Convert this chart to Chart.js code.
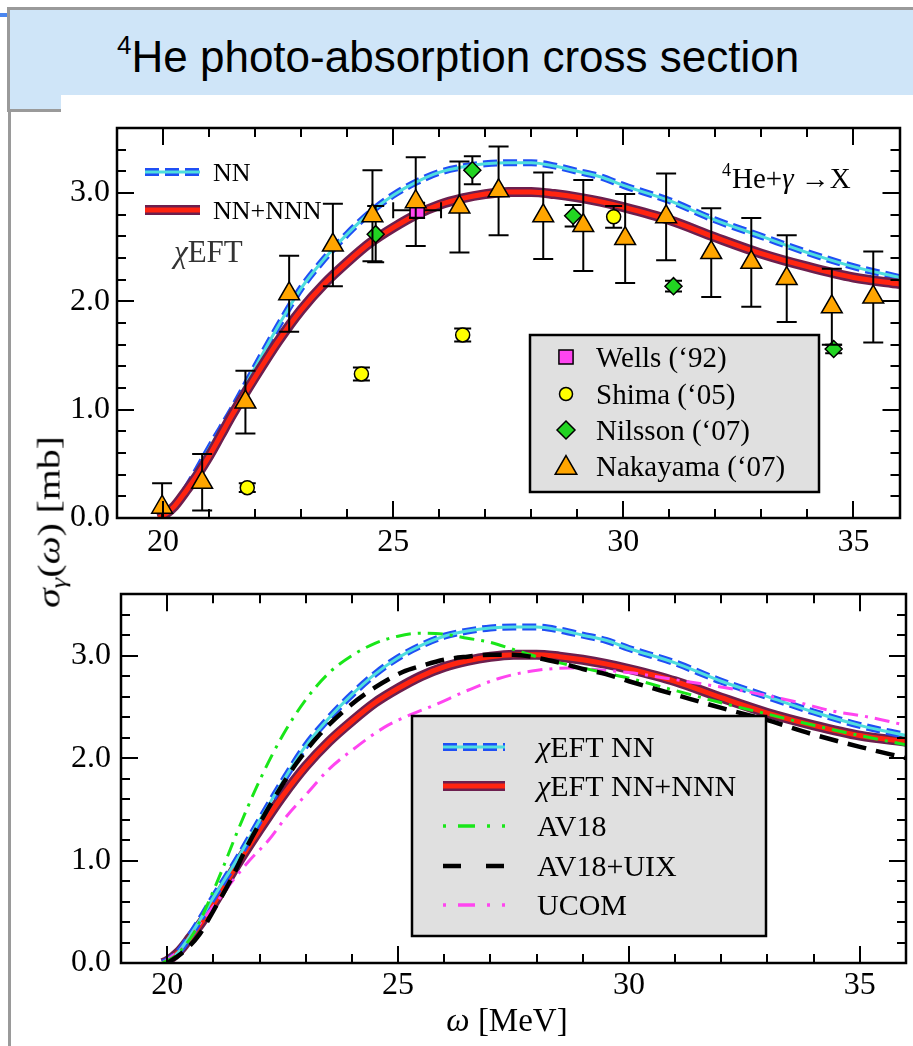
<!DOCTYPE html>
<html>
<head>
<meta charset="utf-8">
<script src="https://cdn.jsdelivr.net/npm/chart.js@4.4.1/dist/chart.umd.min.js"></script>
<style>
html,body{margin:0;padding:0;background:#fff;}
body{width:913px;height:1046px;position:relative;overflow:hidden;font-family:"Liberation Serif","Times New Roman",serif;}
#banner{position:absolute;left:7px;top:7px;width:906px;height:105px;box-sizing:border-box;background:#cfe5f8;border-top:3px solid #9a9a9a;border-left:3px solid #9a9a9a;border-bottom:3px solid #9a9a9a;}
#bluemark{position:absolute;left:0;top:13px;width:7px;height:4px;background:#4a86f0;}
#vline{position:absolute;left:8px;top:112px;width:3px;height:934px;background:#9a9a9a;}
#title{position:absolute;left:117px;top:35px;font-family:"Liberation Sans",Arial,sans-serif;font-size:44px;line-height:44px;white-space:nowrap;color:#000;}
#title sup{font-size:26px;line-height:0;vertical-align:18px;}
.box{position:absolute;background:#fff;}
.box canvas{display:block;}
#ylab{position:absolute;left:49px;top:522px;transform:translate(-50%,-50%) rotate(-90deg) scaleX(1.28);font-size:31px;line-height:1;white-space:nowrap;color:#000;}
#ylab sub{font-size:21px;vertical-align:-6px;line-height:0;}
#xlab{position:absolute;left:507px;top:1020px;transform:translate(-50%,-50%);font-size:33px;line-height:1;white-space:nowrap;color:#000;}
</style>
</head>
<body>
<div id="banner"></div>
<div id="bluemark"></div>
<div id="vline"></div>
<div id="title"><sup>4</sup>He photo-absorption cross section</div>
<div class="box" style="left:61px;top:95px;width:852px;height:470px;"><canvas id="c1" width="852" height="470"></canvas></div>
<div class="box" style="left:61px;top:565px;width:852px;height:481px;"><canvas id="c2" width="852" height="481"></canvas></div>
<div id="ylab"><i>σ</i><sub><i>γ</i></sub>(<i>ω</i>) [mb]</div>
<div id="xlab"><i>ω</i> [MeV]</div>
<script>
// ---------------- data ----------------
const xTickValues = [20, 25, 30, 35];
const yTickValues = [0, 1, 2, 3];

// chiEFT NN (band centre)
const nnE = [19.9, 20.0, 20.25, 20.5, 20.75, 21.0, 21.25, 21.5, 22.0, 22.5, 23.0, 23.5, 24.0, 24.5, 25.0, 25.5, 26.0, 26.5, 27.0, 27.5, 28.0, 28.5, 29.0, 29.5, 30.0, 31.0, 32.0, 33.0, 34.0, 35.0, 36.0];
const nnS = [0, 0.02, 0.11, 0.27, 0.45, 0.64, 0.82, 1.00, 1.39, 1.77, 2.12, 2.39, 2.62, 2.82, 2.98, 3.10, 3.19, 3.24, 3.27, 3.28, 3.28, 3.25, 3.20, 3.15, 3.07, 2.93, 2.75, 2.60, 2.45, 2.32, 2.22];
// chiEFT NN+NNN (band centre)
const n3E = [19.9, 20.0, 20.25, 20.5, 20.75, 21.0, 21.25, 21.5, 22.0, 22.5, 23.0, 23.5, 24.0, 24.5, 25.0, 25.5, 26.0, 26.5, 27.0, 27.5, 28.0, 28.5, 29.0, 29.5, 30.0, 31.0, 32.0, 33.0, 34.0, 35.0, 36.0];
const n3S = [0, 0.02, 0.11, 0.25, 0.40, 0.57, 0.76, 0.95, 1.30, 1.63, 1.92, 2.16, 2.36, 2.54, 2.68, 2.80, 2.89, 2.95, 2.99, 3.01, 3.01, 2.99, 2.96, 2.92, 2.87, 2.75, 2.59, 2.44, 2.32, 2.22, 2.16];
// AV18
const av18E = [19.9, 20.2, 20.6, 20.9, 21.2, 21.5, 22.0, 22.5, 23.0, 23.5, 24.0, 24.5, 25.0, 25.5, 26.0, 26.5, 27.0, 27.5, 28.0, 28.5, 29.0, 29.5, 30.0, 31.0, 32.0, 33.0, 34.0, 35.0, 36.0];
const av18S = [0, 0.08, 0.31, 0.60, 0.92, 1.26, 1.78, 2.22, 2.57, 2.83, 3.00, 3.12, 3.19, 3.22, 3.21, 3.17, 3.13, 3.06, 2.99, 2.93, 2.88, 2.83, 2.78, 2.66, 2.54, 2.43, 2.32, 2.22, 2.13];
// AV18+UIX
const uixE = [20.0, 20.3, 20.7, 21.0, 21.4, 21.7, 22.0, 22.4, 22.8, 23.3, 23.9, 24.5, 25.1, 25.5, 26.0, 26.5, 27.0, 27.5, 28.0, 28.5, 29.0, 29.5, 30.0, 31.0, 32.0, 33.0, 34.0, 35.0, 36.0];
const uixS = [0, 0.09, 0.28, 0.51, 0.83, 1.11, 1.36, 1.67, 1.95, 2.23, 2.49, 2.69, 2.84, 2.90, 2.96, 2.99, 3.01, 3.01, 2.98, 2.93, 2.87, 2.82, 2.75, 2.62, 2.49, 2.37, 2.23, 2.11, 2.00];
// UCOM
const ucomE = [19.9, 20.4, 20.7, 21.1, 21.45, 21.8, 22.2, 22.6, 23.0, 23.5, 24.1, 24.7, 25.2, 25.8, 26.5, 27.2, 27.9, 28.7, 29.4, 30.1, 30.8, 31.5, 32.3, 33.0, 33.7, 34.4, 35.2, 36.0];
const ucomS = [0, 0.18, 0.38, 0.61, 0.82, 1.01, 1.20, 1.44, 1.64, 1.89, 2.11, 2.30, 2.41, 2.52, 2.66, 2.78, 2.85, 2.88, 2.86, 2.83, 2.78, 2.73, 2.67, 2.61, 2.54, 2.46, 2.40, 2.32];

// experimental data
const wellsE = [25.52], wellsS = [2.84], wellsErr = [0.07], wellsErrE = [0.52];
const shimaE = [21.83, 24.31, 26.51, 29.79];
const shimaS = [0.28, 1.33, 1.69, 2.78];
const shimaErr = [0.04, 0.06, 0.06, 0.10];
const nilssonE = [24.62, 26.72, 28.91, 31.09, 34.57];
const nilssonS = [2.62, 3.21, 2.79, 2.14, 1.56];
const nilssonErr = [0.26, 0.13, 0.10, 0.05, 0.04];
const nakE = [19.98, 20.85, 21.79, 22.74, 23.69, 24.55, 25.49, 26.44, 27.29, 28.26, 29.13, 30.04, 30.93, 31.91, 32.78, 33.55, 34.53, 35.43];
const nakS = [0.10, 0.33, 1.07, 2.07, 2.52, 2.79, 2.92, 2.87, 3.02, 2.79, 2.70, 2.58, 2.78, 2.45, 2.36, 2.21, 1.95, 2.04];
const nakErr = [0.22, 0.26, 0.29, 0.35, 0.38, 0.42, 0.41, 0.42, 0.41, 0.40, 0.42, 0.41, 0.40, 0.41, 0.41, 0.40, 0.35, 0.42];

const topLegendLabels = ['NN', 'NN+NNN'];
const dataLegendLabels = ['Wells (\u201892)', 'Shima (\u201805)', 'Nilsson (\u201807)', 'Nakayama (\u201807)'];
const bottomLegendLabels = ['EFT NN', 'EFT NN+NNN', 'AV18', 'AV18+UIX', 'UCOM'];

// ---------------- style ----------------
const SERIF = '"Liberation Serif", "Times New Roman", Times, serif';
Chart.defaults.font.family = SERIF;
Chart.defaults.color = '#000';
const C = {
  blue: '#1f4ff5', cyan: '#4fdede', purple: '#6c1f4e', red: '#ff2410',
  green: '#19e619', black: '#000000', magenta: '#ff45f0',
  tri: '#ffa500', circ: '#ffff00', dia: '#22d422', sq: '#ff45f0', box: '#e0e0e0'
};
const DASH_NN = [14, 6];
const DASH_DD = [15, 7, 3, 7];
const DASH_BK = [19, 10];

function pts(E, S) { return E.map((e, i) => ({ x: e, y: S[i] })); }
function lineDS(E, S, color, width, dash, order) {
  return { data: pts(E, S), showLine: true, borderColor: color, borderWidth: width, borderDash: dash || [],
    borderCapStyle: 'butt', pointRadius: 0, fill: false, cubicInterpolationMode: 'monotone', order: order };
}
function bandNN(order) {
  return [lineDS(nnE, nnS, C.blue, 7, DASH_NN, order), lineDS(nnE, nnS, C.cyan, 3, [], order - 1)];
}
function bandN3(order) {
  return [lineDS(n3E, n3S, C.purple, 10, [], order), lineDS(n3E, n3S, C.red, 5, [], order - 1)];
}
function pointDS(E, S, style, r, fill, err, cap, order, errE) {
  return { data: pts(E, S), showLine: false, pointStyle: style, pointRadius: r, pointHoverRadius: r,
    pointBackgroundColor: fill, pointBorderColor: '#000', pointBorderWidth: 1.5, fill: false,
    errY: err, errX: errE, capW: cap, order: order };
}

function scales(xH, yW, xPad, yPad) {
  return {
    x: { type: 'linear', min: 19, max: 36,
      grid: { display: false, drawTicks: false }, border: { display: false },
      ticks: { font: { size: 32, family: SERIF }, color: '#000', padding: xPad, autoSkip: false, maxRotation: 0,
        callback: v => String(v) },
      afterBuildTicks: s => { s.ticks = xTickValues.map(v => ({ value: v })); },
      afterFit: s => { s.height = xH; } },
    y: { type: 'linear', min: 0, max: 3.6,
      grid: { display: false, drawTicks: false }, border: { display: false },
      ticks: { font: { size: 32, family: SERIF }, color: '#000', padding: yPad, autoSkip: false,
        callback: v => Number(v).toFixed(1) },
      afterBuildTicks: s => { s.ticks = yTickValues.map(v => ({ value: v })); },
      afterFit: s => { s.width = yW; } }
  };
}

// frame with inward major/minor ticks on all four sides
const frameTicks = {
  id: 'frameTicks',
  afterDatasetsDraw(chart) {
    const { ctx, chartArea: a, scales: { x, y } } = chart;
    ctx.save();
    ctx.strokeStyle = '#000';
    ctx.lineWidth = 2;
    ctx.beginPath();
    for (let v = Math.ceil(x.min); v <= Math.floor(x.max); v++) {
      const px = Math.round(x.getPixelForValue(v));
      if (px <= a.left + 2 || px >= a.right - 2) continue;
      const L = v % 5 === 0 ? 17 : 9;
      ctx.moveTo(px, a.bottom); ctx.lineTo(px, a.bottom - L);
      ctx.moveTo(px, a.top); ctx.lineTo(px, a.top + L);
    }
    for (let i = 0; i * 0.2 <= y.max + 1e-9; i++) {
      const py = Math.round(y.getPixelForValue(i * 0.2));
      if (py >= a.bottom - 2 || py <= a.top + 2) continue;
      const L = i % 5 === 0 ? 17 : 9;
      ctx.moveTo(a.left, py); ctx.lineTo(a.left + L, py);
      ctx.moveTo(a.right, py); ctx.lineTo(a.right - L, py);
    }
    ctx.stroke();
    ctx.lineWidth = 2.5;
    ctx.strokeRect(Math.round(a.left), Math.round(a.top), Math.round(a.right - a.left), Math.round(a.bottom - a.top));
    ctx.restore();
  }
};

// error bars drawn just before each point dataset (above curves, below markers)
const errorBars = {
  id: 'errorBars',
  beforeDatasetDraw(chart, args) {
    const ds = chart.data.datasets[args.index];
    if (!ds.errY) return;
    const { ctx, chartArea: a, scales: { x, y } } = chart;
    ctx.save();
    ctx.beginPath(); ctx.rect(a.left, a.top, a.right - a.left, a.bottom - a.top); ctx.clip();
    ctx.strokeStyle = '#000'; ctx.lineWidth = 2;
    const h = ds.capW / 2;
    ds.data.forEach((p, i) => {
      const px = x.getPixelForValue(p.x), py = y.getPixelForValue(p.y);
      const e = ds.errY[i];
      const y1 = y.getPixelForValue(p.y - e), y2 = y.getPixelForValue(p.y + e);
      ctx.beginPath();
      ctx.moveTo(px, y1); ctx.lineTo(px, y2);
      ctx.moveTo(px - h, y1); ctx.lineTo(px + h, y1);
      ctx.moveTo(px - h, y2); ctx.lineTo(px + h, y2);
      if (ds.errX) {
        const ex = ds.errX[i];
        const x1 = x.getPixelForValue(p.x - ex), x2 = x.getPixelForValue(p.x + ex);
        ctx.moveTo(x1, py); ctx.lineTo(x2, py);
        ctx.moveTo(x1, py - h); ctx.lineTo(x1, py + h);
        ctx.moveTo(x2, py - h); ctx.lineTo(x2, py + h);
      }
      ctx.stroke();
    });
    ctx.restore();
  }
};

// ---------- drawing helpers for legends / annotations ----------
function textRuns(ctx, parts, x, yc, color) {
  const base = yc + 0.33 * parts[0][1];
  let cx = x;
  ctx.fillStyle = color || '#000';
  ctx.textBaseline = 'alphabetic'; ctx.textAlign = 'left';
  for (const [t, size, style, dy] of parts) {
    ctx.font = (style ? style + ' ' : 'normal ') + size + 'px ' + SERIF;
    ctx.fillText(t, cx, base + (dy || 0));
    cx += ctx.measureText(t).width;
  }
  return cx;
}
function seg(ctx, x1, x2, y, color, w, dash) {
  ctx.save(); ctx.strokeStyle = color; ctx.lineWidth = w; ctx.lineCap = 'butt'; ctx.setLineDash(dash || []);
  ctx.beginPath(); ctx.moveTo(x1, y); ctx.lineTo(x2, y); ctx.stroke(); ctx.restore();
}
function sampleNN(ctx, x1, x2, y) { seg(ctx, x1, x2, y, C.blue, 8, DASH_NN); seg(ctx, x1, x2, y, C.cyan, 3); }
function sampleN3(ctx, x1, x2, y) { seg(ctx, x1, x2, y, C.purple, 10); seg(ctx, x1, x2, y, C.red, 5); }
function marker(ctx, style, x, y, r, fill) {
  ctx.save(); ctx.fillStyle = fill; ctx.strokeStyle = '#000'; ctx.lineWidth = 1.5; ctx.beginPath();
  if (style === 'rect') { const s = r * Math.SQRT1_2; ctx.rect(x - s, y - s, 2 * s, 2 * s); }
  else if (style === 'circle') { ctx.arc(x, y, r, 0, Math.PI * 2); }
  else if (style === 'rectRot') { ctx.moveTo(x - r, y); ctx.lineTo(x, y - r); ctx.lineTo(x + r, y); ctx.lineTo(x, y + r); ctx.closePath(); }
  else if (style === 'triangle') {
    for (let k = 0; k < 3; k++) { const ang = k * 2 * Math.PI / 3; const px = x + Math.sin(ang) * r, py = y - Math.cos(ang) * r; k ? ctx.lineTo(px, py) : ctx.moveTo(px, py); }
    ctx.closePath();
  }
  ctx.fill(); ctx.stroke(); ctx.restore();
}

const OX = 61, OY1 = 95, OY2 = 565;

const topAnnot = {
  id: 'topAnnot',
  afterDraw(chart) {
    const ctx = chart.ctx;
    const X = v => v - OX, Y = v => v - OY1;
    ctx.save();
    sampleNN(ctx, X(145), X(200), Y(172));
    sampleN3(ctx, X(145), X(200), Y(210));
    textRuns(ctx, [[topLegendLabels[0], 26]], X(213), Y(172));
    textRuns(ctx, [[topLegendLabels[1], 26]], X(213), Y(210));
    textRuns(ctx, [['\u03C7', 31, 'italic'], ['EFT', 31]], X(174), Y(252), '#333');
    textRuns(ctx, [['He+', 29], ['\u03B3', 29, 'italic'], [' \u2192X', 29]], X(732), Y(178));
    textRuns(ctx, [['4', 18, '', -12]], X(722), Y(178) + 0.33 * 29 - 0.33 * 18);
    // data legend box
    ctx.fillStyle = C.box; ctx.fillRect(X(530), Y(335), 289, 157);
    ctx.strokeStyle = '#000'; ctx.lineWidth = 2.5; ctx.strokeRect(X(530), Y(335), 289, 157);
    const rows = [357, 394, 430, 466];
    marker(ctx, 'rect', X(566), Y(rows[0]), 10, C.sq);
    marker(ctx, 'circle', X(566), Y(rows[1]), 6.5, C.circ);
    marker(ctx, 'rectRot', X(566), Y(rows[2]), 9, C.dia);
    marker(ctx, 'triangle', X(566), Y(rows[3]) + 2, 12.5, C.tri);
    dataLegendLabels.forEach((t, i) => textRuns(ctx, [[t, 29]], X(596), Y(rows[i])));
    ctx.restore();
  }
};

const bottomAnnot = {
  id: 'bottomAnnot',
  afterDraw(chart) {
    const ctx = chart.ctx;
    const X = v => v - OX, Y = v => v - OY2;
    ctx.save();
    ctx.fillStyle = C.box; ctx.fillRect(X(412), Y(716), 354, 220);
    ctx.strokeStyle = '#000'; ctx.lineWidth = 2.5; ctx.strokeRect(X(412), Y(716), 354, 220);
    const rows = [747, 786, 826, 866, 905];
    const x1 = X(443), x2 = X(505);
    sampleNN(ctx, x1, x2, Y(rows[0]));
    sampleN3(ctx, x1, x2, Y(rows[1]));
    seg(ctx, x1, x2, Y(rows[2]), C.green, 3.5, [3, 12, 17, 12]);
    seg(ctx, x1, x2, Y(rows[3]), C.black, 4.5, [18, 25]);
    seg(ctx, x1, x2, Y(rows[4]), C.magenta, 3.5, [3, 12, 17, 12]);
    textRuns(ctx, [['\u03C7', 30, 'italic'], [bottomLegendLabels[0], 30]], X(537), Y(rows[0]));
    textRuns(ctx, [['\u03C7', 30, 'italic'], [bottomLegendLabels[1], 30]], X(537), Y(rows[1]));
    for (let i = 2; i < 5; i++) textRuns(ctx, [[bottomLegendLabels[i], 30]], X(537), Y(rows[i]));
    ctx.restore();
  }
};

const common = {
  responsive: false, maintainAspectRatio: false, animation: false, events: [],
  plugins: { legend: { display: false }, tooltip: { enabled: false } }
};

// ---------------- top chart ----------------
new Chart(document.getElementById('c1'), {
  type: 'line',
  data: { datasets: [
    ...bandNN(20),
    ...bandN3(18),
    pointDS(wellsE, wellsS, 'rect', 10, C.sq, wellsErr, 16, 4, wellsErrE),
    pointDS(shimaE, shimaS, 'circle', 7, C.circ, shimaErr, 17, 3),
    pointDS(nilssonE, nilssonS, 'rectRot', 8.5, C.dia, nilssonErr, 17, 2),
    pointDS(nakE, nakS, 'triangle', 12, C.tri, nakErr, 20, 1)
  ] },
  options: Object.assign({}, common, {
    layout: { padding: { left: 0, right: 3, top: 33, bottom: 0 } },
    scales: scales(47, 56, 5, 7)
  }),
  plugins: [errorBars, frameTicks, topAnnot]
});

// ---------------- bottom chart ----------------
new Chart(document.getElementById('c2'), {
  type: 'line',
  data: { datasets: [
    ...bandN3(20),
    ...bandNN(18),
    lineDS(ucomE, ucomS, C.magenta, 3, DASH_DD, 6),
    lineDS(av18E, av18S, C.green, 3, DASH_DD, 5),
    lineDS(uixE, uixS, C.black, 4.5, DASH_BK, 4)
  ] },
  options: Object.assign({}, common, {
    layout: { padding: { left: 0, right: 7, top: 9, bottom: 0 } },
    scales: scales(83, 60, 3, 10)
  }),
  plugins: [frameTicks, bottomAnnot]
});
</script>
</body>
</html>
